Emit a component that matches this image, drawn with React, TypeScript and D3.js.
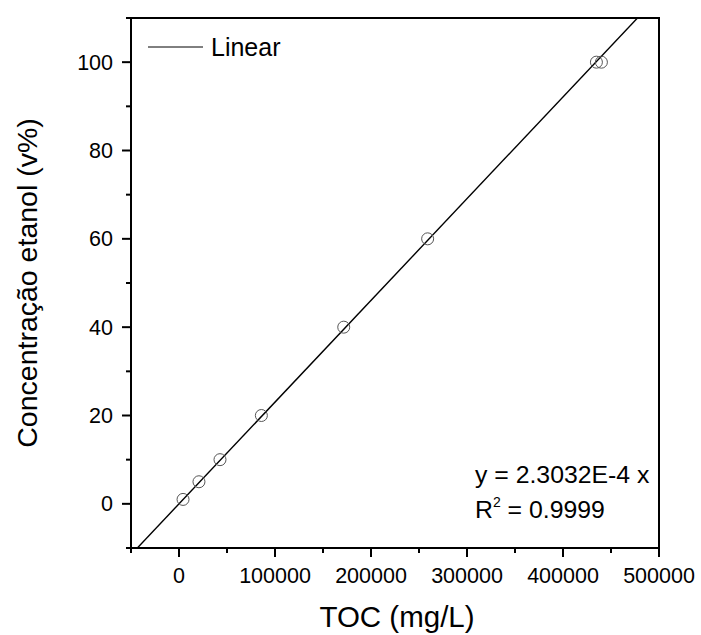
import React from "react";
import * as d3 from "d3";

const tocValues = [4200, 20800, 42700, 85800, 171600, 259000, 434800, 440000];
const ethanolValues = [1, 5, 10, 20, 40, 60, 100, 100];
const slope = 2.3032e-4;
const xMajorTicks = [0, 100000, 200000, 300000, 400000, 500000];
const xMinorTicks = [-50000, 50000, 150000, 250000, 350000, 450000];
const yMajorTicks = [0, 20, 40, 60, 80, 100];
const yMinorTicks = [-10, 10, 30, 50, 70, 90, 110];
const xTitle = "TOC (mg/L)";
const yTitle = "Concentração etanol (v%)";
const legendLabel = "Linear";
const eqLine = "y = 2.3032E-4 x";
const r2Value = "0.9999";

const W = 701;
const H = 635;
const L = 131;
const R = 659;
const T = 18;
const B = 548;

export default function App() {
  const x = d3.scaleLinear().domain([-50000, 500000]).range([L, R]);
  const y = d3.scaleLinear().domain([-10, 110]).range([B, T]);
  const fitX = [-50000, 500000];
  const line = d3
    .line<number>()
    .x((d) => x(d))
    .y((d) => y(slope * d));
  const font = "'Liberation Sans', Arial, sans-serif";
  return (
    <svg
      width={W}
      height={H}
      style={{ position: "absolute", left: 0, top: 0, background: "#fff" }}
      fontFamily={font}
    >
      <defs>
        <clipPath id="plotclip">
          <rect x={L} y={T} width={R - L} height={B - T} />
        </clipPath>
      </defs>
      <rect width={W} height={H} fill="#fff" />
      <path
        d={line(fitX) || ""}
        fill="none"
        stroke="#000"
        strokeWidth={1.4}
        clipPath="url(#plotclip)"
      />
      {tocValues.map((v, i) => (
        <circle
          key={i}
          cx={x(v)}
          cy={y(ethanolValues[i])}
          r={6}
          fill="none"
          stroke="#555"
          strokeWidth={1}
        />
      ))}
      {xMajorTicks.map((t) => (
        <g key={"xm" + t}>
          <line x1={x(t)} x2={x(t)} y1={B} y2={B + 9} stroke="#000" strokeWidth={2} />
          <text x={x(t)} y={583} textAnchor="middle" fontSize={21.5}>
            {t}
          </text>
        </g>
      ))}
      {xMinorTicks.map((t) => (
        <line key={"xn" + t} x1={x(t)} x2={x(t)} y1={B} y2={B + 5} stroke="#000" strokeWidth={2} />
      ))}
      {yMajorTicks.map((t) => (
        <g key={"ym" + t}>
          <line x1={L - 9} x2={L} y1={y(t)} y2={y(t)} stroke="#000" strokeWidth={2} />
          <text x={113} y={y(t) + 7.5} textAnchor="end" fontSize={21.5}>
            {t}
          </text>
        </g>
      ))}
      {yMinorTicks.map((t) => (
        <line key={"yn" + t} x1={L - 5} x2={L} y1={y(t)} y2={y(t)} stroke="#000" strokeWidth={2} />
      ))}
      <rect x={L} y={T} width={R - L} height={B - T} fill="none" stroke="#000" strokeWidth={2} />
      <line x1={148} x2={203} y1={47} y2={47} stroke="#000" strokeWidth={1} />
      <text x={211} y={56} fontSize={25}>
        {legendLabel}
      </text>
      <text x={475} y={483} fontSize={24.8} style={{ whiteSpace: "pre" }}>
        {eqLine}
      </text>
      <text x={475} y={518} fontSize={24.8} style={{ whiteSpace: "pre" }}>
        R
        <tspan fontSize={14} dy={-11}>2</tspan>
        <tspan dy={11}>{" = " + r2Value}</tspan>
      </text>
      <text x={397} y={627} textAnchor="middle" fontSize={29.5}>
        {xTitle}
      </text>
      <text
        transform={`translate(37, ${(T + B) / 2}) rotate(-90)`}
        textAnchor="middle"
        fontSize={28.5}
      >
        {yTitle}
      </text>
    </svg>
  );
}
